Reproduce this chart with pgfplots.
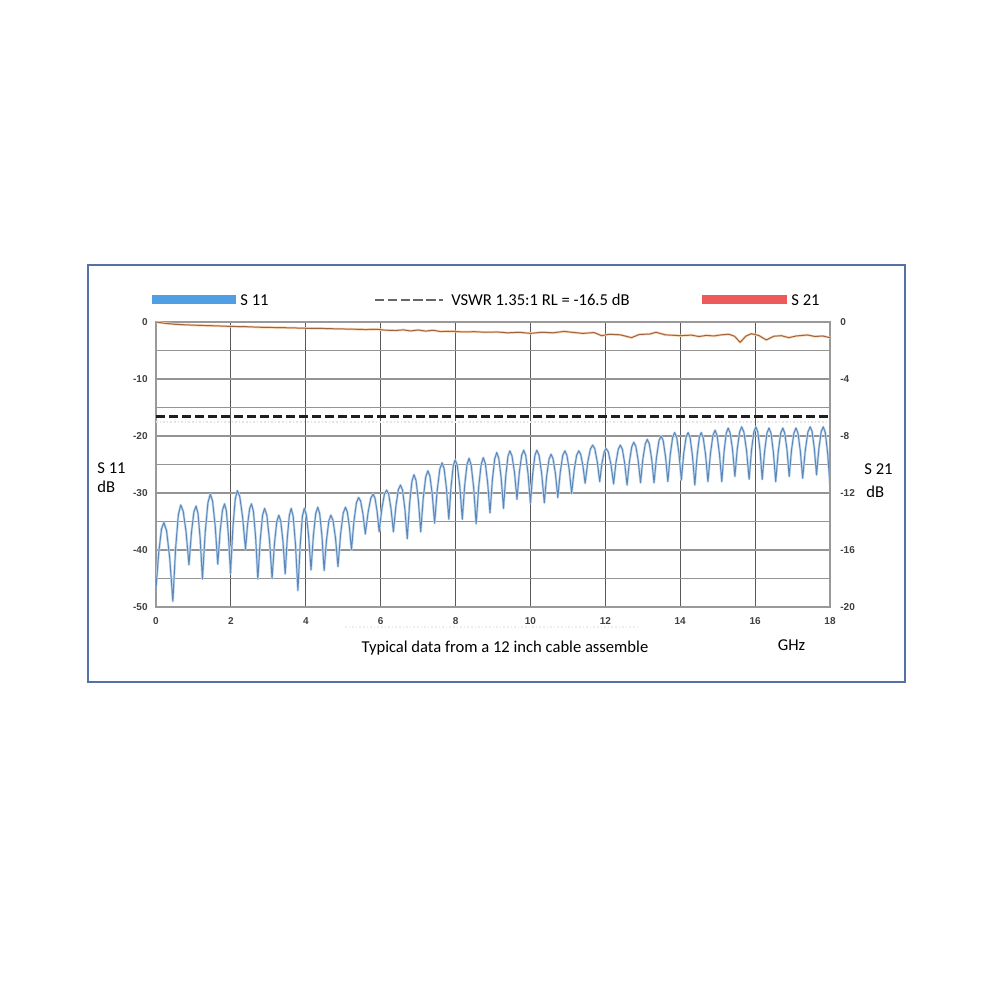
\documentclass[border=0pt]{standalone}
\usepackage{pgfplots}
\pgfplotsset{compat=1.18}
\usepackage{pgfplotstable}
\usepackage{fontspec}
\setmainfont{Carlito}
\newfontfamily\tickfont{Liberation Sans}
\newcommand\ticklab{\tickfont\fontsize{5}{6}\selectfont\bfseries}
\newcommand\lab{\fontsize{8.3}{10}\selectfont}
\definecolor{framecol}{RGB}{84,114,168}
\definecolor{legblue}{RGB}{80,158,228}
\definecolor{legred}{RGB}{238,90,90}
\definecolor{sblue}{RGB}{92,135,185}
\definecolor{sbluehalo}{RGB}{195,218,240}
\definecolor{sbrown}{RGB}{160,100,62}
\definecolor{sbrownhalo}{RGB}{250,212,178}

\pgfplotstableread{
x y
0 -46.7
0.074 -40.4
0.147 -36.3
0.21 -35.2
0.282 -36.6
0.366 -41.4
0.45 -49.0
0.524 -39.7
0.597 -33.8
0.66 -32.1
0.726 -33.2
0.803 -36.8
0.88 -42.6
0.947 -36.9
1.013 -33.3
1.07 -32.3
1.121 -33.6
1.181 -38.1
1.24 -45.1
1.314 -36.9
1.387 -31.7
1.45 -30.2
1.51 -31.4
1.58 -35.7
1.65 -42.5
1.713 -36.7
1.776 -33.0
1.83 -31.9
1.878 -33.1
1.934 -37.4
1.99 -44.1
2.053 -36.1
2.116 -31.1
2.17 -29.6
2.236 -30.6
2.313 -34.2
2.39 -39.9
2.446 -35.5
2.502 -32.7
2.55 -31.9
2.601 -33.2
2.661 -37.8
2.72 -45.1
2.783 -38.3
2.846 -33.9
2.90 -32.7
2.96 -33.9
3.03 -38.2
3.10 -45.0
3.163 -38.9
3.226 -35.0
3.28 -33.9
3.331 -34.9
3.391 -38.5
3.45 -44.2
3.506 -37.9
3.562 -33.9
3.61 -32.7
3.664 -34.1
3.727 -39.2
3.79 -47.1
3.85 -39.2
3.909 -34.1
3.96 -32.7
4.014 -33.8
4.077 -37.6
4.14 -43.5
4.203 -37.5
4.266 -33.6
4.32 -32.5
4.371 -33.6
4.431 -37.5
4.49 -43.6
4.553 -38.3
4.616 -34.9
4.67 -33.9
4.727 -34.8
4.794 -37.9
4.86 -42.9
4.93 -37.2
5.0 -33.5
5.06 -32.5
5.108 -33.3
5.164 -35.9
5.22 -40.0
5.287 -34.9
5.353 -31.7
5.41 -30.8
5.464 -31.4
5.527 -33.7
5.59 -37.2
5.664 -33.4
5.737 -30.9
5.80 -30.2
5.848 -30.9
5.904 -33.2
5.96 -36.8
6.03 -32.8
6.10 -30.2
6.16 -29.5
6.214 -30.2
6.277 -32.8
6.34 -36.8
6.407 -32.3
6.473 -29.4
6.53 -28.6
6.584 -29.5
6.647 -32.8
6.71 -38.0
6.773 -31.8
6.836 -27.9
6.89 -26.8
6.944 -27.8
7.007 -31.3
7.07 -36.8
7.137 -30.9
7.203 -27.2
7.26 -26.1
7.314 -27.0
7.377 -30.2
7.44 -35.3
7.51 -29.5
7.58 -25.8
7.64 -24.7
7.694 -25.7
7.757 -29.2
7.82 -34.6
7.88 -28.9
7.939 -25.2
7.99 -24.2
8.047 -25.2
8.114 -28.9
8.18 -34.6
8.243 -28.7
8.306 -25.0
8.36 -23.9
8.417 -25.1
8.484 -29.1
8.55 -35.4
8.617 -29.0
8.683 -25.0
8.74 -23.8
8.794 -24.8
8.857 -28.2
8.92 -33.5
8.983 -27.7
9.046 -24.0
9.10 -22.9
9.154 -23.9
9.217 -27.3
9.28 -32.7
9.34 -27.1
9.399 -23.6
9.45 -22.6
9.507 -23.5
9.574 -26.4
9.64 -31.1
9.703 -26.4
9.766 -23.4
9.82 -22.5
9.874 -23.4
9.937 -26.7
10.00 -31.8
10.06 -26.7
10.119 -23.4
10.17 -22.5
10.23 -23.4
10.30 -26.6
10.37 -31.7
10.433 -27.0
10.496 -24.1
10.55 -23.2
10.604 -24.0
10.667 -26.6
10.73 -30.8
10.797 -26.3
10.863 -23.4
10.92 -22.6
10.974 -23.4
11.037 -26.0
11.10 -30.1
11.167 -26.0
11.233 -23.4
11.29 -22.6
11.341 -23.2
11.401 -25.2
11.46 -28.3
11.53 -24.6
11.60 -22.3
11.66 -21.6
11.717 -22.2
11.784 -24.5
11.85 -28.0
11.91 -24.8
11.969 -22.8
12.02 -22.2
12.08 -22.8
12.15 -25.0
12.22 -28.4
12.283 -24.7
12.346 -22.3
12.40 -21.6
12.454 -22.3
12.517 -24.8
12.58 -28.6
12.643 -24.5
12.706 -21.9
12.76 -21.1
12.814 -21.8
12.877 -24.3
12.94 -28.2
13.003 -24.0
13.066 -21.4
13.12 -20.6
13.174 -21.4
13.237 -24.0
13.30 -28.2
13.367 -23.7
13.433 -20.8
13.49 -20.0
13.544 -20.8
13.607 -23.6
13.67 -28.0
13.733 -23.3
13.796 -20.3
13.85 -19.4
13.904 -20.2
13.967 -23.1
14.03 -27.7
14.093 -23.1
14.156 -20.2
14.21 -19.4
14.264 -20.3
14.327 -23.5
14.39 -28.6
14.45 -23.5
14.509 -20.3
14.56 -19.4
14.614 -20.3
14.677 -23.3
14.74 -28.0
14.807 -23.1
14.873 -19.9
14.93 -19.0
14.984 -19.9
15.047 -23.1
15.11 -28.0
15.17 -22.8
15.229 -19.5
15.28 -18.6
15.334 -19.5
15.397 -22.4
15.46 -27.1
15.523 -22.3
15.586 -19.3
15.64 -18.4
15.70 -19.3
15.77 -22.5
15.84 -27.6
15.903 -22.5
15.966 -19.3
16.02 -18.4
16.071 -19.3
16.131 -22.5
16.19 -27.6
16.253 -22.7
16.316 -19.5
16.37 -18.6
16.424 -19.5
16.487 -22.8
16.55 -28.0
16.617 -22.8
16.683 -19.5
16.74 -18.6
16.791 -19.5
16.851 -22.4
16.91 -27.1
16.973 -22.4
17.036 -19.5
17.09 -18.6
17.144 -19.5
17.207 -22.6
17.27 -27.4
17.34 -22.5
17.41 -19.3
17.47 -18.4
17.521 -19.2
17.581 -22.2
17.64 -26.8
17.703 -22.2
17.766 -19.2
17.82 -18.4
17.874 -19.4
17.937 -23.0
18.00 -28.6
}\sEleven

\pgfplotstableread{
x y
0 0
0.2 -0.08
0.5 -0.16
0.8 -0.2
1.2 -0.24
1.6 -0.27
2.0 -0.31
2.4 -0.33
2.8 -0.37
3.2 -0.39
3.6 -0.41
4.0 -0.44
4.4 -0.45
4.8 -0.48
5.2 -0.5
5.6 -0.53
5.9 -0.51
6.1 -0.57
6.4 -0.6
6.6 -0.55
6.8 -0.63
7.0 -0.56
7.2 -0.64
7.4 -0.58
7.6 -0.67
7.9 -0.65
8.2 -0.7
8.5 -0.68
8.8 -0.72
9.1 -0.7
9.4 -0.76
9.7 -0.72
10.0 -0.8
10.3 -0.72
10.6 -0.76
10.9 -0.66
11.1 -0.72
11.4 -0.8
11.7 -0.74
11.9 -0.96
12.1 -0.86
12.4 -0.9
12.7 -1.1
12.9 -0.88
13.2 -0.84
13.35 -0.72
13.6 -0.9
14.0 -0.96
14.3 -0.92
14.5 -1.02
14.7 -0.94
14.9 -0.98
15.1 -0.9
15.3 -0.86
15.45 -1.0
15.6 -1.43
15.75 -1.0
15.9 -0.82
16.1 -0.95
16.3 -1.26
16.5 -1.0
16.7 -0.96
16.9 -1.1
17.1 -0.98
17.4 -0.91
17.6 -1.02
17.8 -0.98
18.0 -1.1
}\sTwentyOne

\begin{document}
\begin{tikzpicture}
\path[use as bounding box, fill=white] (0pt,0pt) rectangle (500pt,500pt);
\draw[framecol, line width=0.6pt] (44pt,159pt) rectangle (452.5pt,367.5pt);

% legend row
\fill[legblue] (76pt,347.75pt) rectangle (118pt,352.25pt);
\node[anchor=west, inner sep=0pt, font=\lab] at (120pt,350pt) {S 11};
\draw[black!60, line width=1.4pt, dash pattern=on 4.7pt off 1.7pt] (187.5pt,350pt) -- (221.5pt,350pt);
\node[anchor=west, inner sep=0pt, font=\lab] at (225.5pt,350pt) {VSWR 1.35:1 RL = -16.5 dB};
\fill[legred] (351pt,347.75pt) rectangle (393.5pt,352.25pt);
\node[anchor=west, inner sep=0pt, font=\lab] at (395.5pt,350pt) {S 21};

% side labels
\node[anchor=west, inner sep=0pt, font=\lab] at (48.5pt,266pt) {S 11};
\node[anchor=west, inner sep=0pt, font=\lab] at (48.5pt,256.5pt) {dB};
\node[anchor=west, inner sep=0pt, font=\lab] at (432pt,265.5pt) {S 21};
\node[anchor=west, inner sep=0pt, font=\lab] at (433pt,254pt) {dB};
\node[inner sep=0pt, font=\lab] at (395.75pt,177.5pt) {GHz};
\node[inner sep=0pt, font=\lab] at (252.5pt,176pt) {Typical data from a 12 inch cable assemble};
\draw[black!7, line width=0.8pt, densely dotted] (172.5pt,186.5pt) -- (320pt,186.5pt);

\begin{axis}[
  at={(78pt,196.5pt)}, anchor=south west,
  width=337pt, height=142.5pt, scale only axis,
  xmin=0, xmax=18, ymin=-50, ymax=0,
  xtick={0,2,4,6,8,10,12,14,16,18},
  xticklabels={0,2,4,6,8,10,12,14,16,18},
  ytick={-50,-40,-30,-20,-10,0},
  yticklabels={-50,-40,-30,-20,-10,0},
  minor ytick={-45,-35,-25,-15,-5},
  xmajorgrids, ymajorgrids, yminorgrids,
  major tick length=0pt, minor tick length=0pt,
  tick label style={font=\ticklab, text=black!75},
  xticklabel style={anchor=north, inner sep=0pt, yshift=-5pt},
  yticklabel style={anchor=east, inner sep=0pt, xshift=-4pt},
  axis line style={black!40, line width=0.6pt},
  x grid style={black!65, line width=0.6pt},
  y grid style={black!42, line width=0.6pt},
  minor y grid style={black!42, line width=0.6pt},
]
\addplot[black!10, line width=0.8pt, densely dotted] coordinates {(0,-17.55) (18,-17.55)};
\addplot[black!88, line width=1.5pt, dash pattern=on 4.5pt off 2pt] coordinates {(0,-16.5) (18,-16.5)};
\addplot[sbluehalo, line width=1.2pt, line join=round] table[x=x,y=y] {\sEleven};
\addplot[sblue, line width=0.5pt, line join=round] table[x=x,y=y] {\sEleven};
\end{axis}

\begin{axis}[
  at={(78pt,196.5pt)}, anchor=south west,
  width=337pt, height=142.5pt, scale only axis,
  xmin=0, xmax=18, ymin=-20, ymax=0,
  axis x line=none, axis y line*=right,
  ytick={-20,-16,-12,-8,-4,0},
  yticklabels={-20,-16,-12,-8,-4,0},
  major tick length=0pt,
  tick label style={font=\ticklab, text=black!75},
  yticklabel style={anchor=west, inner sep=0pt, xshift=5pt},
  axis line style={black!40, line width=0.6pt},
]
\addplot[sbrownhalo, line width=1.2pt, line join=round] table[x=x,y=y] {\sTwentyOne};
\addplot[sbrown, line width=0.5pt, line join=round] table[x=x,y=y] {\sTwentyOne};
\end{axis}
\end{tikzpicture}
\end{document}
